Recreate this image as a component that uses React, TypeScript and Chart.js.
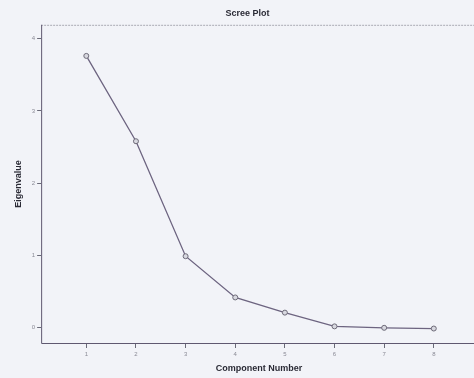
import React, { useEffect, useRef } from "react";
import { Chart, registerables } from "chart.js";

Chart.register(...registerables);

const components = [1, 2, 3, 4, 5, 6, 7, 8];
const eigenvalues = [3.76, 2.58, 0.99, 0.42, 0.21, 0.02, 0.0, -0.01];
const yTicks = [0, 1, 2, 3, 4];

const frame = {
  id: "frame",
  afterDraw(chart: any) {
    const { ctx, chartArea: a } = chart;
    ctx.save();
    ctx.strokeStyle = "#a9a9b3";
    ctx.lineWidth = 1;
    ctx.setLineDash([2, 1]);
    ctx.beginPath();
    ctx.moveTo(a.left, a.top + 0.5);
    ctx.lineTo(a.right, a.top + 0.5);
    ctx.stroke();
    ctx.setLineDash([]);
    ctx.strokeStyle = "#5f5870";
    ctx.beginPath();
    ctx.moveTo(a.left + 0.5, a.top);
    ctx.lineTo(a.left + 0.5, a.bottom + 0.5);
    ctx.lineTo(a.right, a.bottom + 0.5);
    ctx.stroke();
    ctx.restore();
  },
};

export default function App() {
  const ref = useRef<HTMLCanvasElement>(null);
  useEffect(() => {
    const chart = new Chart(ref.current!, {
      type: "line",
      data: {
        datasets: [
          {
            data: components.map((c, i) => ({ x: c, y: eigenvalues[i] })),
            borderColor: "#6d6480",
            borderWidth: 1.3,
            pointRadius: 2.5,
            pointBackgroundColor: "#d8d8e0",
            pointBorderColor: "#6d6a78",
            pointBorderWidth: 1,
            tension: 0,
          },
        ],
      },
      plugins: [frame],
      options: {
        animation: false,
        responsive: false,
        layout: { padding: { left: 13, right: 0, top: 0, bottom: 2 } },
        plugins: {
          legend: { display: false },
          tooltip: { enabled: false },
          title: {
            display: true,
            text: "Scree Plot",
            color: "#2a2a35",
            font: { family: "Liberation Sans", size: 9, weight: "bold" },
            padding: { top: 8, bottom: 6 },
          },
        },
        scales: {
          x: {
            type: "linear",
            min: 0.09,
            max: 8.87,
            afterBuildTicks: (s: any) => {
              s.ticks = components.map((v) => ({ value: v }));
            },
            grid: { display: true, drawOnChartArea: false, tickLength: 5, color: "#6a6a78" },
            border: { display: false },
            ticks: {
              color: "#8a8a95",
              font: { family: "Liberation Sans", size: 6 },
              padding: 3,
              maxRotation: 0,
            },
            title: {
              display: true,
              text: "Component Number",
              color: "#2a2a35",
              font: { family: "Liberation Sans", size: 9, weight: "bold" },
              padding: { top: 2, bottom: 2 },
            },
          },
          y: {
            type: "linear",
            min: -0.21,
            max: 4.19,
            afterBuildTicks: (s: any) => {
              s.ticks = yTicks.map((v) => ({ value: v }));
            },
            grid: { display: true, drawOnChartArea: false, tickLength: 4, color: "#6a6a78" },
            border: { display: false },
            ticks: {
              color: "#8a8a95",
              font: { family: "Liberation Sans", size: 6 },
              padding: 2,
            },
            title: {
              display: true,
              text: "Eigenvalue",
              color: "#2a2a35",
              font: { family: "Liberation Sans", size: 9, weight: "bold" },
              padding: { top: 0, bottom: 6 },
            },
          },
        },
      },
    });
    return () => chart.destroy();
  }, []);
  return (
    <div style={{ position: "fixed", left: 0, top: 0, width: 474, height: 378, overflow: "hidden", background: "#f2f3f8" }}>
      <canvas ref={ref} width={482} height={378} style={{ width: 482, height: 378, display: "block" }} />
    </div>
  );
}
